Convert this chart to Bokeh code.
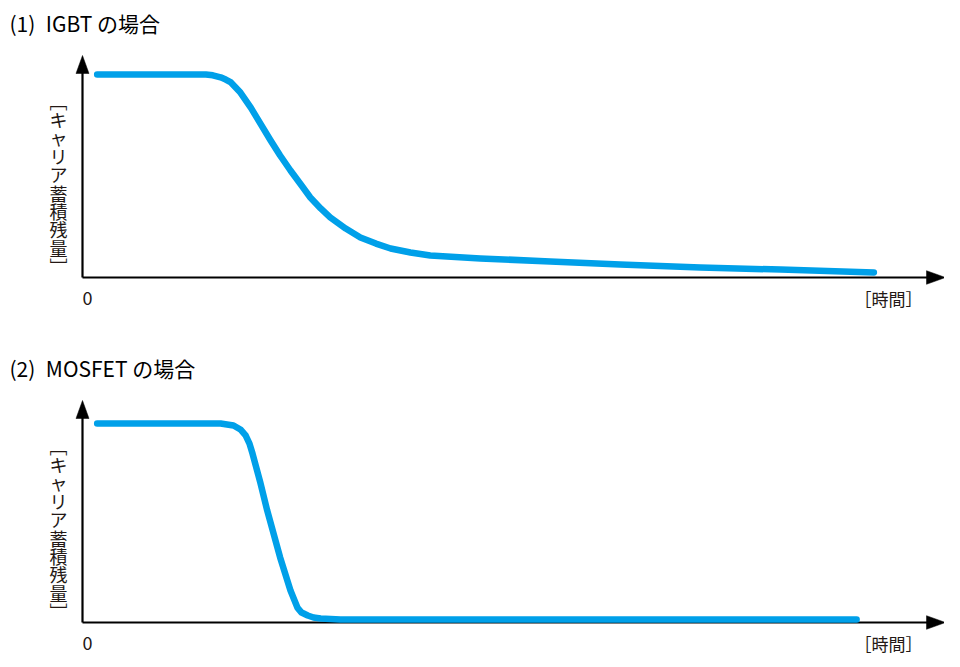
from bokeh.plotting import figure
from bokeh.layouts import column
from bokeh.models import Range1d
from bokeh.core.properties import value
from bokeh.embed import file_html
from bokeh.resources import INLINE

# ---- data (time: arbitrary units, 0..100 = axis length; carrier: % of initial) ----
igbt_t = [1.7, 7.9, 14.3, 15.1, 16.0, 16.6, 17.2, 18.3, 19.5, 20.6, 21.8, 22.9, 24.1, 25.3, 26.4,
          27.6, 28.7, 30.5, 32.2, 34.0, 35.7, 38.0, 40.3, 46.1, 54.2, 62.3, 71.6, 80.9, 91.7]
igbt_q = [100, 100, 100, 99.6, 98.6, 97.5, 96.1, 91.1, 83.7, 75.9, 67.5, 60.1, 52.7, 45.8, 39.4,
          34.0, 29.6, 24.1, 19.7, 16.7, 14.3, 12.3, 10.8, 9.4, 7.9, 6.4, 4.9, 3.9, 2.5]

mos_t = [1.7, 16.0, 17.5, 18.3, 18.9, 19.35, 19.7, 20.6, 21.4, 22.9, 24.1, 24.57, 24.9,
         25.38, 26.1, 26.77, 27.6, 29.9, 32.2, 89.7]
mos_q = [100, 100, 99, 97, 94, 89.9, 84.9, 70.4, 56.3, 32.7, 16.1, 11.1, 7.5,
         5.0, 3.5, 2.5, 2.0, 1.5, 1.5, 1.5]

titles = ["(1)\u2002IGBT の場合", "(2)\u2002MOSFET の場合"]
ylabel_chars = ["\uFE47", "キ", "ャ", "リ", "ア", "蓄", "積", "残", "量", "\uFE48"]
xlabel = "［時間］"
origin_label = "0"

BLUE = "#00a0e9"
INK = "#231815"
FONT = "Noto Sans CJK JP"

W = 944
XS = 8.63          # px per time unit
ORIGIN_X = 82      # page px of the y axis
LEFT = 0           # page px of the figure's left edge


def panel(t, q, title, top_px, bottom_px, axis_px, ys):
    h = bottom_px - top_px
    px2x = lambda px: (px - ORIGIN_X) / XS
    px2y = lambda py: (axis_px - py) / ys
    p = figure(width=W, height=h, output_backend="svg", toolbar_location=None,
               x_axis_type=None, y_axis_type=None, min_border=0,
               x_range=Range1d(px2x(LEFT), px2x(LEFT + W)),
               y_range=Range1d(px2y(bottom_px), px2y(top_px)))
    p.outline_line_color = None
    p.grid.visible = False
    p.background_fill_color = "white"
    p.border_fill_color = "white"

    ytop = px2y(axis_px - 222)
    xend = px2x(945)
    # axes
    p.line([0, 0], [0, px2y(axis_px - 210)], line_color="black", line_width=2.2)
    p.line([0, px2x(935)], [0, 0], line_color="black", line_width=2.2)
    # arrow heads
    p.patch([0, -6.5 / XS, 6.5 / XS], [ytop, ytop - 18 / ys, ytop - 18 / ys],
            fill_color="black", line_color="black", line_width=0.5)
    p.patch([xend, xend - 19 / XS, xend - 19 / XS], [0, 6.8 / ys, -6.8 / ys],
            fill_color="black", line_color="black", line_width=0.5)

    # curve
    p.line(t, q, line_color=BLUE, line_width=6.5, line_cap="round", line_join="round")

    # texts
    p.text(x=[px2x(9)], y=[px2y(top_px + 22)], text=[title], text_font=value(FONT),
           text_font_size="21px", text_color="black", text_baseline="middle", text_align="left")
    p.text(x=[px2x(87)], y=[px2y(axis_px + 20)], text=[origin_label], text_font=value(FONT),
           text_font_size="18px", text_color=INK, text_baseline="middle", text_align="center")
    p.text(x=[px2x(888)], y=[px2y(axis_px + 21)], text=[xlabel], text_font=value(FONT),
           text_font_size="17px", text_color=INK, text_baseline="middle", text_align="center")
    first = axis_px - 177
    p.text(x=[px2x(58)] * len(ylabel_chars),
           y=[px2y(first + 18.4 * i) for i in range(len(ylabel_chars))],
           text=ylabel_chars, text_font=value(FONT), text_font_size="18px",
           text_color=INK, text_baseline="middle", text_align="center")
    return p


p1 = panel(igbt_t, igbt_q, titles[0], 0, 345, 277, 2.03)
p2 = panel(mos_t, mos_q, titles[1], 345, 659, 622, 1.99)

layout = column(p1, p2, spacing=0)
open("out.html", "w").write(file_html(layout, INLINE))
